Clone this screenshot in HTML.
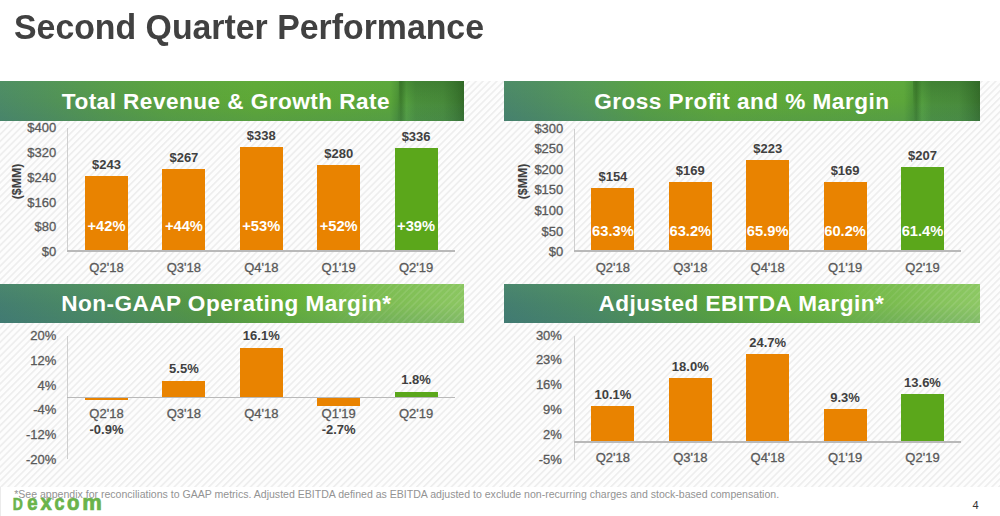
<!DOCTYPE html>
<html><head><meta charset="utf-8"><title>Second Quarter Performance</title>
<style>
html,body{margin:0;padding:0;}
body{width:1000px;height:516px;position:relative;overflow:hidden;background:#fff;font-family:'Liberation Sans', sans-serif;}
.t{position:absolute;white-space:nowrap;font-family:'Liberation Sans', sans-serif;}
.r{position:absolute;}
.bar{overflow:hidden;}
.stripes{position:absolute;left:0;top:81px;width:1000px;height:405.5px;
 background:repeating-linear-gradient(135deg,#fdfdfd 0px,#fdfdfd 2.3px,#eeeeee 3.1px,#eeeeee 3.9px,#fdfdfd 4.9px);}
.banner{position:absolute;overflow:hidden;}
.b1{background:linear-gradient(90deg,#4c8a66 0%,#50905a 10%,#55994b 22%,#5aa23e 36%,#5ea836 55%,#5ba63a 84%,#4d9436 85.6%,#3f7f2e 86.4%,#55a040 87.6%,#4b903c 89.6%,#498c3b 95.5%,#3f7d33 98%,#356d2a 100%);}
.b2{background:linear-gradient(90deg,#4a866a 0%,#4e8c62 8%,#539658 18%,#58a042 30%,#5ea838 45%,#5ca63a 84%,#4d9436 85.8%,#3f7f2e 86.6%,#55a040 87.8%,#4b903c 89.8%,#4a8d3c 95.5%,#407e34 98%,#376f2c 100%);}
.b1::after,.b2::after{content:'';position:absolute;inset:0;background:linear-gradient(180deg,rgba(110,190,80,0.10),rgba(0,0,0,0) 50%,rgba(40,90,140,0.12));}
.b1::before,.b2::before{content:'';position:absolute;top:0;bottom:0;right:0;width:14%;background:linear-gradient(180deg,rgba(0,40,0,0.18),rgba(0,0,0,0) 60%,rgba(120,200,80,0.06));z-index:1;}
.b3{background:linear-gradient(97deg,#447e70 0%,#4b8a62 20%,#56993f 45%,#5fa838 55%,#66b03a 64%,#7bbb50 80%,#8cc662 100%);}
.b4{background:linear-gradient(97deg,#447e70 0%,#4b8a62 20%,#57a040 42%,#62ad38 55%,#68b33a 66%,#7dbd52 83%,#8ec865 100%);}
.b3::after,.b4::after{content:'';position:absolute;inset:0;background:linear-gradient(180deg,rgba(130,210,90,0.10),rgba(0,0,0,0) 50%,rgba(40,90,140,0.12));}
.b3::before,.b4::before{content:'';position:absolute;top:0;bottom:0;right:0;width:30%;background:repeating-linear-gradient(135deg,rgba(255,255,255,0) 0px,rgba(255,255,255,0) 2.4px,rgba(255,255,255,0.10) 3.2px,rgba(255,255,255,0.10) 4px,rgba(255,255,255,0) 4.9px);-webkit-mask-image:linear-gradient(90deg,transparent,#000 60%);z-index:1;}
.lg{position:absolute;left:0;top:0;transform-origin:0 0;font-family:'Liberation Sans', sans-serif;font-weight:bold;font-size:40px;line-height:40px;color:#6ab34b;-webkit-text-stroke:1.4px #6ab34b;}
</style></head>
<body>
<div class="stripes"></div>
<div class="t" style="left:14.00px;top:11.05px;font-size:33.85px;line-height:33.85px;font-weight:bold;color:#414141;transform:scaleY(1.045);transform-origin:0 28.65px;">Second Quarter Performance</div>
<div class="banner b1" style="left:0px;top:81.3px;width:464px;height:39.4px"></div>
<div class="banner b2" style="left:504px;top:81.3px;width:476px;height:39.4px"></div>
<div class="banner b3" style="left:0px;top:283.5px;width:464px;height:39px"></div>
<div class="banner b4" style="left:504px;top:283.5px;width:476px;height:39px"></div>
<div class="t" style="left:61.80px;top:91.47px;font-size:22.6px;line-height:22.6px;font-weight:bold;color:#fff;letter-spacing:0.455px;">Total Revenue &amp; Growth Rate</div>
<div class="t" style="left:594.30px;top:91.47px;font-size:22.6px;line-height:22.6px;font-weight:bold;color:#fff;letter-spacing:0.455px;">Gross Profit and % Margin</div>
<div class="t" style="left:61.20px;top:293.07px;font-size:22.6px;line-height:22.6px;font-weight:bold;color:#fff;letter-spacing:0.455px;">Non-GAAP Operating Margin*</div>
<div class="t" style="left:598.50px;top:293.07px;font-size:22.6px;line-height:22.6px;font-weight:bold;color:#fff;letter-spacing:0.455px;">Adjusted EBITDA Margin*</div>
<div class="r" style="left:66.90px;top:128.00px;width:1.60px;height:123.00px;background:#cfcfcf;"></div>
<div class="t" style="right:943.80px;top:121.15px;font-size:13px;line-height:13px;font-weight:normal;color:#595959;-webkit-text-stroke:0.3px #595959;">$400</div>
<div class="t" style="right:943.80px;top:145.95px;font-size:13px;line-height:13px;font-weight:normal;color:#595959;-webkit-text-stroke:0.3px #595959;">$320</div>
<div class="t" style="right:943.80px;top:170.75px;font-size:13px;line-height:13px;font-weight:normal;color:#595959;-webkit-text-stroke:0.3px #595959;">$240</div>
<div class="t" style="right:943.80px;top:195.55px;font-size:13px;line-height:13px;font-weight:normal;color:#595959;-webkit-text-stroke:0.3px #595959;">$160</div>
<div class="t" style="right:943.80px;top:220.35px;font-size:13px;line-height:13px;font-weight:normal;color:#595959;-webkit-text-stroke:0.3px #595959;">$80</div>
<div class="t" style="right:943.80px;top:245.15px;font-size:13px;line-height:13px;font-weight:normal;color:#595959;-webkit-text-stroke:0.3px #595959;">$0</div>
<div class="r bar" style="left:85.00px;top:176.18px;width:43.00px;height:74.72px;background:#E98300"><div class="t" style="left:-20px;width:83.00px;text-align:center;top:42.58px;font-size:14.7px;line-height:14.7px;font-weight:bold;color:#fff">+42%</div></div>
<div class="t" style="left:6.50px;width:200px;text-align:center;top:158.17px;font-size:13px;line-height:13px;font-weight:bold;color:#404040;">$243</div>
<div class="t" style="left:6.50px;width:200px;text-align:center;top:260.80px;font-size:13px;line-height:13px;font-weight:normal;color:#595959;-webkit-text-stroke:0.3px #595959;">Q2'18</div>
<div class="r bar" style="left:162.40px;top:168.80px;width:43.00px;height:82.10px;background:#E98300"><div class="t" style="left:-20px;width:83.00px;text-align:center;top:49.96px;font-size:14.7px;line-height:14.7px;font-weight:bold;color:#fff">+44%</div></div>
<div class="t" style="left:83.90px;width:200px;text-align:center;top:150.79px;font-size:13px;line-height:13px;font-weight:bold;color:#404040;">$267</div>
<div class="t" style="left:83.90px;width:200px;text-align:center;top:260.80px;font-size:13px;line-height:13px;font-weight:normal;color:#595959;-webkit-text-stroke:0.3px #595959;">Q3'18</div>
<div class="r bar" style="left:239.80px;top:146.97px;width:43.00px;height:103.94px;background:#E98300"><div class="t" style="left:-20px;width:83.00px;text-align:center;top:71.79px;font-size:14.7px;line-height:14.7px;font-weight:bold;color:#fff">+53%</div></div>
<div class="t" style="left:161.30px;width:200px;text-align:center;top:128.96px;font-size:13px;line-height:13px;font-weight:bold;color:#404040;">$338</div>
<div class="t" style="left:161.30px;width:200px;text-align:center;top:260.80px;font-size:13px;line-height:13px;font-weight:normal;color:#595959;-webkit-text-stroke:0.3px #595959;">Q4'18</div>
<div class="r bar" style="left:317.20px;top:164.80px;width:43.00px;height:86.10px;background:#E98300"><div class="t" style="left:-20px;width:83.00px;text-align:center;top:53.96px;font-size:14.7px;line-height:14.7px;font-weight:bold;color:#fff">+52%</div></div>
<div class="t" style="left:238.70px;width:200px;text-align:center;top:146.80px;font-size:13px;line-height:13px;font-weight:bold;color:#404040;">$280</div>
<div class="t" style="left:238.70px;width:200px;text-align:center;top:260.80px;font-size:13px;line-height:13px;font-weight:normal;color:#595959;-webkit-text-stroke:0.3px #595959;">Q1'19</div>
<div class="r bar" style="left:394.60px;top:147.58px;width:43.00px;height:103.32px;background:#5BA71B"><div class="t" style="left:-20px;width:83.00px;text-align:center;top:71.18px;font-size:14.7px;line-height:14.7px;font-weight:bold;color:#fff">+39%</div></div>
<div class="t" style="left:316.10px;width:200px;text-align:center;top:129.58px;font-size:13px;line-height:13px;font-weight:bold;color:#404040;">$336</div>
<div class="t" style="left:316.10px;width:200px;text-align:center;top:260.80px;font-size:13px;line-height:13px;font-weight:normal;color:#595959;-webkit-text-stroke:0.3px #595959;">Q2'19</div>
<div class="r" style="left:66.90px;top:250.00px;width:388.10px;height:1.80px;background:#b9b9b9;"></div>
<div class="t" style="left:-33.20px;top:175.00px;width:100px;text-align:center;font-size:12.3px;line-height:13px;font-weight:bold;color:#404040;transform:rotate(-90deg)">($MM)</div>
<div class="r" style="left:573.80px;top:128.60px;width:1.60px;height:122.40px;background:#cfcfcf;"></div>
<div class="t" style="right:436.70px;top:121.55px;font-size:13px;line-height:13px;font-weight:normal;color:#595959;-webkit-text-stroke:0.3px #595959;">$300</div>
<div class="t" style="right:436.70px;top:142.15px;font-size:13px;line-height:13px;font-weight:normal;color:#595959;-webkit-text-stroke:0.3px #595959;">$250</div>
<div class="t" style="right:436.70px;top:162.75px;font-size:13px;line-height:13px;font-weight:normal;color:#595959;-webkit-text-stroke:0.3px #595959;">$200</div>
<div class="t" style="right:436.70px;top:183.35px;font-size:13px;line-height:13px;font-weight:normal;color:#595959;-webkit-text-stroke:0.3px #595959;">$150</div>
<div class="t" style="right:436.70px;top:203.95px;font-size:13px;line-height:13px;font-weight:normal;color:#595959;-webkit-text-stroke:0.3px #595959;">$100</div>
<div class="t" style="right:436.70px;top:224.55px;font-size:13px;line-height:13px;font-weight:normal;color:#595959;-webkit-text-stroke:0.3px #595959;">$50</div>
<div class="t" style="right:436.70px;top:245.15px;font-size:13px;line-height:13px;font-weight:normal;color:#595959;-webkit-text-stroke:0.3px #595959;">$0</div>
<div class="r bar" style="left:591.40px;top:188.27px;width:43.00px;height:62.63px;background:#E98300"><div class="t" style="left:-20px;width:83.00px;text-align:center;top:35.28px;font-size:14.7px;line-height:14.7px;font-weight:bold;color:#fff">63.3%</div></div>
<div class="t" style="left:512.90px;width:200px;text-align:center;top:170.27px;font-size:13px;line-height:13px;font-weight:bold;color:#404040;">$154</div>
<div class="t" style="left:512.90px;width:200px;text-align:center;top:260.80px;font-size:13px;line-height:13px;font-weight:normal;color:#595959;-webkit-text-stroke:0.3px #595959;">Q2'18</div>
<div class="r bar" style="left:668.80px;top:182.17px;width:43.00px;height:68.73px;background:#E98300"><div class="t" style="left:-20px;width:83.00px;text-align:center;top:41.38px;font-size:14.7px;line-height:14.7px;font-weight:bold;color:#fff">63.2%</div></div>
<div class="t" style="left:590.30px;width:200px;text-align:center;top:164.17px;font-size:13px;line-height:13px;font-weight:bold;color:#404040;">$169</div>
<div class="t" style="left:590.30px;width:200px;text-align:center;top:260.80px;font-size:13px;line-height:13px;font-weight:normal;color:#595959;-webkit-text-stroke:0.3px #595959;">Q3'18</div>
<div class="r bar" style="left:746.20px;top:160.21px;width:43.00px;height:90.69px;background:#E98300"><div class="t" style="left:-20px;width:83.00px;text-align:center;top:63.34px;font-size:14.7px;line-height:14.7px;font-weight:bold;color:#fff">65.9%</div></div>
<div class="t" style="left:667.70px;width:200px;text-align:center;top:142.21px;font-size:13px;line-height:13px;font-weight:bold;color:#404040;">$223</div>
<div class="t" style="left:667.70px;width:200px;text-align:center;top:260.80px;font-size:13px;line-height:13px;font-weight:normal;color:#595959;-webkit-text-stroke:0.3px #595959;">Q4'18</div>
<div class="r bar" style="left:823.60px;top:182.17px;width:43.00px;height:68.73px;background:#E98300"><div class="t" style="left:-20px;width:83.00px;text-align:center;top:41.38px;font-size:14.7px;line-height:14.7px;font-weight:bold;color:#fff">60.2%</div></div>
<div class="t" style="left:745.10px;width:200px;text-align:center;top:164.17px;font-size:13px;line-height:13px;font-weight:bold;color:#404040;">$169</div>
<div class="t" style="left:745.10px;width:200px;text-align:center;top:260.80px;font-size:13px;line-height:13px;font-weight:normal;color:#595959;-webkit-text-stroke:0.3px #595959;">Q1'19</div>
<div class="r bar" style="left:901.00px;top:166.72px;width:43.00px;height:84.18px;background:#5BA71B"><div class="t" style="left:-20px;width:83.00px;text-align:center;top:56.84px;font-size:14.7px;line-height:14.7px;font-weight:bold;color:#fff">61.4%</div></div>
<div class="t" style="left:822.50px;width:200px;text-align:center;top:148.72px;font-size:13px;line-height:13px;font-weight:bold;color:#404040;">$207</div>
<div class="t" style="left:822.50px;width:200px;text-align:center;top:260.80px;font-size:13px;line-height:13px;font-weight:normal;color:#595959;-webkit-text-stroke:0.3px #595959;">Q2'19</div>
<div class="r" style="left:573.80px;top:250.00px;width:387.20px;height:1.80px;background:#b9b9b9;"></div>
<div class="t" style="left:473.30px;top:174.70px;width:100px;text-align:center;font-size:12.3px;line-height:13px;font-weight:bold;color:#404040;transform:rotate(-90deg)">($MM)</div>
<div class="r" style="left:66.90px;top:336.30px;width:1.60px;height:123.20px;background:#cfcfcf;"></div>
<div class="t" style="right:943.70px;top:329.05px;font-size:13px;line-height:13px;font-weight:normal;color:#595959;-webkit-text-stroke:0.3px #595959;">20%</div>
<div class="t" style="right:943.70px;top:353.85px;font-size:13px;line-height:13px;font-weight:normal;color:#595959;-webkit-text-stroke:0.3px #595959;">12%</div>
<div class="t" style="right:943.70px;top:378.65px;font-size:13px;line-height:13px;font-weight:normal;color:#595959;-webkit-text-stroke:0.3px #595959;">4%</div>
<div class="t" style="right:943.70px;top:403.45px;font-size:13px;line-height:13px;font-weight:normal;color:#595959;-webkit-text-stroke:0.3px #595959;">-4%</div>
<div class="t" style="right:943.70px;top:428.25px;font-size:13px;line-height:13px;font-weight:normal;color:#595959;-webkit-text-stroke:0.3px #595959;">-12%</div>
<div class="t" style="right:943.70px;top:453.05px;font-size:13px;line-height:13px;font-weight:normal;color:#595959;-webkit-text-stroke:0.3px #595959;">-20%</div>
<div class="r bar" style="left:85.00px;top:397.40px;width:43.00px;height:2.76px;background:#E98300"></div>
<div class="t" style="left:6.50px;width:200px;text-align:center;top:422.50px;font-size:13px;line-height:13px;font-weight:bold;color:#404040;">-0.9%</div>
<div class="t" style="left:6.50px;width:200px;text-align:center;top:407.30px;font-size:13px;line-height:13px;font-weight:normal;color:#595959;-webkit-text-stroke:0.3px #595959;">Q2'18</div>
<div class="r bar" style="left:162.40px;top:380.51px;width:43.00px;height:16.88px;background:#E98300"></div>
<div class="t" style="left:83.90px;width:200px;text-align:center;top:361.71px;font-size:13px;line-height:13px;font-weight:bold;color:#404040;">5.5%</div>
<div class="t" style="left:83.90px;width:200px;text-align:center;top:407.30px;font-size:13px;line-height:13px;font-weight:normal;color:#595959;-webkit-text-stroke:0.3px #595959;">Q3'18</div>
<div class="r bar" style="left:239.80px;top:347.97px;width:43.00px;height:49.43px;background:#E98300"></div>
<div class="t" style="left:161.30px;width:200px;text-align:center;top:329.17px;font-size:13px;line-height:13px;font-weight:bold;color:#404040;">16.1%</div>
<div class="t" style="left:161.30px;width:200px;text-align:center;top:407.30px;font-size:13px;line-height:13px;font-weight:normal;color:#595959;-webkit-text-stroke:0.3px #595959;">Q4'18</div>
<div class="r bar" style="left:317.20px;top:397.40px;width:43.00px;height:8.29px;background:#E98300"></div>
<div class="t" style="left:238.70px;width:200px;text-align:center;top:422.50px;font-size:13px;line-height:13px;font-weight:bold;color:#404040;">-2.7%</div>
<div class="t" style="left:238.70px;width:200px;text-align:center;top:407.30px;font-size:13px;line-height:13px;font-weight:normal;color:#595959;-webkit-text-stroke:0.3px #595959;">Q1'19</div>
<div class="r bar" style="left:394.60px;top:391.87px;width:43.00px;height:5.53px;background:#5BA71B"></div>
<div class="t" style="left:316.10px;width:200px;text-align:center;top:373.07px;font-size:13px;line-height:13px;font-weight:bold;color:#404040;">1.8%</div>
<div class="t" style="left:316.10px;width:200px;text-align:center;top:407.30px;font-size:13px;line-height:13px;font-weight:normal;color:#595959;-webkit-text-stroke:0.3px #595959;">Q2'19</div>
<div class="r" style="left:66.90px;top:396.50px;width:388.10px;height:1.80px;background:#b9b9b9;"></div>
<div class="r" style="left:573.80px;top:336.30px;width:1.60px;height:123.70px;background:#cfcfcf;"></div>
<div class="t" style="right:438.10px;top:328.55px;font-size:13px;line-height:13px;font-weight:normal;color:#595959;-webkit-text-stroke:0.3px #595959;">30%</div>
<div class="t" style="right:438.10px;top:353.35px;font-size:13px;line-height:13px;font-weight:normal;color:#595959;-webkit-text-stroke:0.3px #595959;">23%</div>
<div class="t" style="right:438.10px;top:378.15px;font-size:13px;line-height:13px;font-weight:normal;color:#595959;-webkit-text-stroke:0.3px #595959;">16%</div>
<div class="t" style="right:438.10px;top:402.95px;font-size:13px;line-height:13px;font-weight:normal;color:#595959;-webkit-text-stroke:0.3px #595959;">9%</div>
<div class="t" style="right:438.10px;top:427.75px;font-size:13px;line-height:13px;font-weight:normal;color:#595959;-webkit-text-stroke:0.3px #595959;">2%</div>
<div class="t" style="right:438.10px;top:452.55px;font-size:13px;line-height:13px;font-weight:normal;color:#595959;-webkit-text-stroke:0.3px #595959;">-5%</div>
<div class="r bar" style="left:591.40px;top:405.92px;width:43.00px;height:35.78px;background:#E98300"></div>
<div class="t" style="left:512.90px;width:200px;text-align:center;top:387.91px;font-size:13px;line-height:13px;font-weight:bold;color:#404040;">10.1%</div>
<div class="t" style="left:512.90px;width:200px;text-align:center;top:450.80px;font-size:13px;line-height:13px;font-weight:normal;color:#595959;-webkit-text-stroke:0.3px #595959;">Q2'18</div>
<div class="r bar" style="left:668.80px;top:377.93px;width:43.00px;height:63.77px;background:#E98300"></div>
<div class="t" style="left:590.30px;width:200px;text-align:center;top:359.92px;font-size:13px;line-height:13px;font-weight:bold;color:#404040;">18.0%</div>
<div class="t" style="left:590.30px;width:200px;text-align:center;top:450.80px;font-size:13px;line-height:13px;font-weight:normal;color:#595959;-webkit-text-stroke:0.3px #595959;">Q3'18</div>
<div class="r bar" style="left:746.20px;top:354.19px;width:43.00px;height:87.51px;background:#E98300"></div>
<div class="t" style="left:667.70px;width:200px;text-align:center;top:336.19px;font-size:13px;line-height:13px;font-weight:bold;color:#404040;">24.7%</div>
<div class="t" style="left:667.70px;width:200px;text-align:center;top:450.80px;font-size:13px;line-height:13px;font-weight:normal;color:#595959;-webkit-text-stroke:0.3px #595959;">Q4'18</div>
<div class="r bar" style="left:823.60px;top:408.75px;width:43.00px;height:32.95px;background:#E98300"></div>
<div class="t" style="left:745.10px;width:200px;text-align:center;top:390.75px;font-size:13px;line-height:13px;font-weight:bold;color:#404040;">9.3%</div>
<div class="t" style="left:745.10px;width:200px;text-align:center;top:450.80px;font-size:13px;line-height:13px;font-weight:normal;color:#595959;-webkit-text-stroke:0.3px #595959;">Q1'19</div>
<div class="r bar" style="left:901.00px;top:393.52px;width:43.00px;height:48.18px;background:#5BA71B"></div>
<div class="t" style="left:822.50px;width:200px;text-align:center;top:375.51px;font-size:13px;line-height:13px;font-weight:bold;color:#404040;">13.6%</div>
<div class="t" style="left:822.50px;width:200px;text-align:center;top:450.80px;font-size:13px;line-height:13px;font-weight:normal;color:#595959;-webkit-text-stroke:0.3px #595959;">Q2'19</div>
<div class="r" style="left:573.80px;top:440.80px;width:387.20px;height:1.80px;background:#b9b9b9;"></div>
<div class="t" style="left:14.20px;top:488.57px;font-size:10.55px;line-height:10.55px;font-weight:normal;color:#939393;">*See appendix for reconciliations to GAAP metrics. Adjusted EBITDA defined as EBITDA adjusted to exclude non-recurring charges and stock-based compensation.</div>
<div class="r" style="left:0.00px;top:487.00px;width:1.00px;height:29.00px;background:#ebebeb;"></div>
<div class="t" style="left:972.50px;top:499.69px;font-size:11px;line-height:11px;font-weight:normal;color:#333333;">4</div>
<div class="lg" style="transform:matrix(0.3500,0,0,0.4333,12.70,495.43)">D</div>
<div class="lg" style="transform:matrix(0.4619,0,0,0.5292,27.14,492.08)">e</div>
<div class="lg" style="transform:matrix(0.5083,0,0,0.5292,40.61,492.08)">x</div>
<div class="lg" style="transform:matrix(0.4476,0,0,0.5292,54.45,492.08)">c</div>
<div class="lg" style="transform:matrix(0.5087,0,0,0.5292,66.89,492.08)">o</div>
<div class="lg" style="transform:matrix(0.5500,0,0,0.5292,82.20,492.08)">m</div>

</body></html>
